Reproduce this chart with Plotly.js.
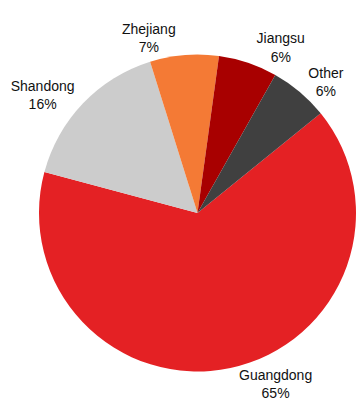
<!DOCTYPE html>
<html>
<head>
<meta charset="utf-8">
<script src="https://cdn.plot.ly/plotly-3.0.1.min.js"></script>
<style>html,body{margin:0;padding:0;background:#fff;}#chart{width:356px;height:414px;}</style>
</head>
<body>
<div id="chart"></div>
<script>
const regions = ["Guangdong", "Shandong", "Zhejiang", "Jiangsu", "Other"];
const shares = [65, 16, 7, 6, 6];
const sliceColors = ["#e42124", "#cccccc", "#f47a35", "#a80000", "#404040"];

const trace = {
  type: "pie",
  labels: regions,
  values: shares,
  sort: false,
  direction: "clockwise",
  rotation: 51,
  marker: { colors: sliceColors, line: { width: 0 } },
  textposition: "outside",
  texttemplate: "%{label}<br>%{percent:.0%}",
  textfont: { family: "Liberation Sans, Arial, sans-serif", size: 14, color: "#111111" },
  hoverinfo: "label+percent",
  automargin: false,
  domain: { x: [0, 1], y: [0, 1] }
};

const layout = {
  width: 356,
  height: 414,
  margin: { l: 39, r: 0, t: 54, b: 42 },
  showlegend: false,
  paper_bgcolor: "#ffffff",
  plot_bgcolor: "#ffffff"
};

Plotly.newPlot("chart", [trace], layout, { displayModeBar: false, staticPlot: true });
</script>
</body>
</html>
